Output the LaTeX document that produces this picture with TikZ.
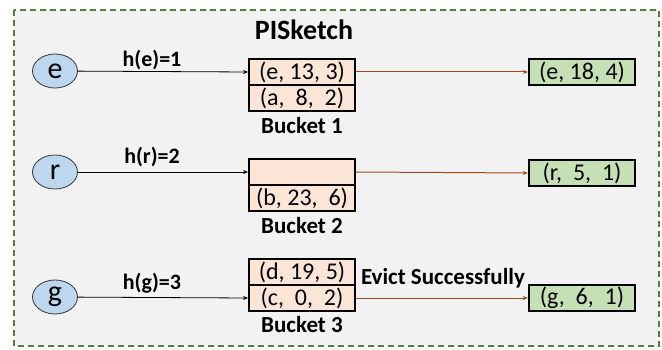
\documentclass[tikz,border=0pt]{standalone}
\usepackage{fontspec}
\setmainfont{Carlito}
\usetikzlibrary{arrows.meta,shapes.geometric}
\definecolor{bgc}{HTML}{F2F2F2}
\definecolor{framec}{HTML}{548235}
\definecolor{cellc}{HTML}{FBE5D6}
\definecolor{greenc}{HTML}{C5E0B4}
\definecolor{bluec}{HTML}{BDD7EE}
\definecolor{brownc}{HTML}{9E4A1C}
\tikzset{
  x=1pt,y=-1pt,
  cell/.style={draw=black,line width=1.8pt,fill=cellc,minimum width=106pt,minimum height=26pt,inner sep=0pt,font=\fontsize{24}{28}\selectfont},
  res/.style={draw=black,line width=2.2pt,fill=greenc,minimum width=106pt,minimum height=26pt,inner sep=0pt,font=\fontsize{24}{28}\selectfont},
  keyn/.style={ellipse,draw=black!80,line width=0.8pt,fill=bluec,minimum width=45pt,minimum height=34pt,inner sep=0pt,font=\fontsize{30}{34}\selectfont},
  lbl/.style={font=\bfseries\fontsize{23}{26}\selectfont},
  hlbl/.style={font=\bfseries\fontsize{22}{26}\selectfont},
  hash/.style={draw=black,line width=0.8pt,-{Stealth[length=5pt,width=4pt]}},
  move/.style={draw=brownc,line width=1pt,-{Stealth[length=5pt,width=4pt]}}
}
\begin{document}
\begin{tikzpicture}
\useasboundingbox (0,0) rectangle (662,350);
\draw[framec,line width=1.6pt,dash pattern=on 6pt off 4pt,fill=bgc] (14,10) rectangle (659,346);
\node[font=\bfseries\fontsize{28}{32}\selectfont] (title) at (304,30) {PISketch};
% keys
\node[keyn] (e) at (55,71) {e};
\node[keyn] (r) at (55,172) {r};
\node[keyn] (g) at (55,297) {g};
% bucket 1
\node[cell] (b1a) at (302,72) {(e, 13, 3)};
\node[cell] (b1b) at (302,98) {(a,\ \ 8,\ \ 2)};
\node[lbl] (bk1) at (302,126) {Bucket 1};
% bucket 2
\node[cell] (b2a) at (302,172) {};
\node[cell] (b2b) at (302,198) {(b, 23,\ \ 6)};
\node[lbl] (bk2) at (302,226) {Bucket 2};
% bucket 3
\node[cell] (b3a) at (302,272) {(d, 19, 5)};
\node[cell] (b3b) at (302,298) {(c,\ \ 0,\ \ 2)};
\node[lbl] (bk3) at (302,325) {Bucket 3};
% results
\node[res] (r1) at (582,72) {(e, 18, 4)};
\node[res] (r2) at (582,173) {(r,\ \ 5,\ \ 1)};
\node[res] (r3) at (582,298) {(g,\ \ 6,\ \ 1)};
% hash arrows
\draw[hash] (e) -- (b1a.west);
\draw[hash] (r) -- (b2a.west);
\draw[hash] (g) -- (b3b.west);
\node[hlbl] (he) at (152,60) {h(e)=1};
\node[hlbl] (hr) at (152,157) {h(r)=2};
\node[hlbl] (hg) at (152,283) {h(g)=3};
% moves
\draw[move] (b1a.east) -- (r1.west);
\draw[move] (b2a.east) -- (r2.west);
\draw[move] (b3b.east) -- (r3.west);
\node[lbl] (ev) at (443,278) {Evict Successfully};
\end{tikzpicture}
\end{document}
